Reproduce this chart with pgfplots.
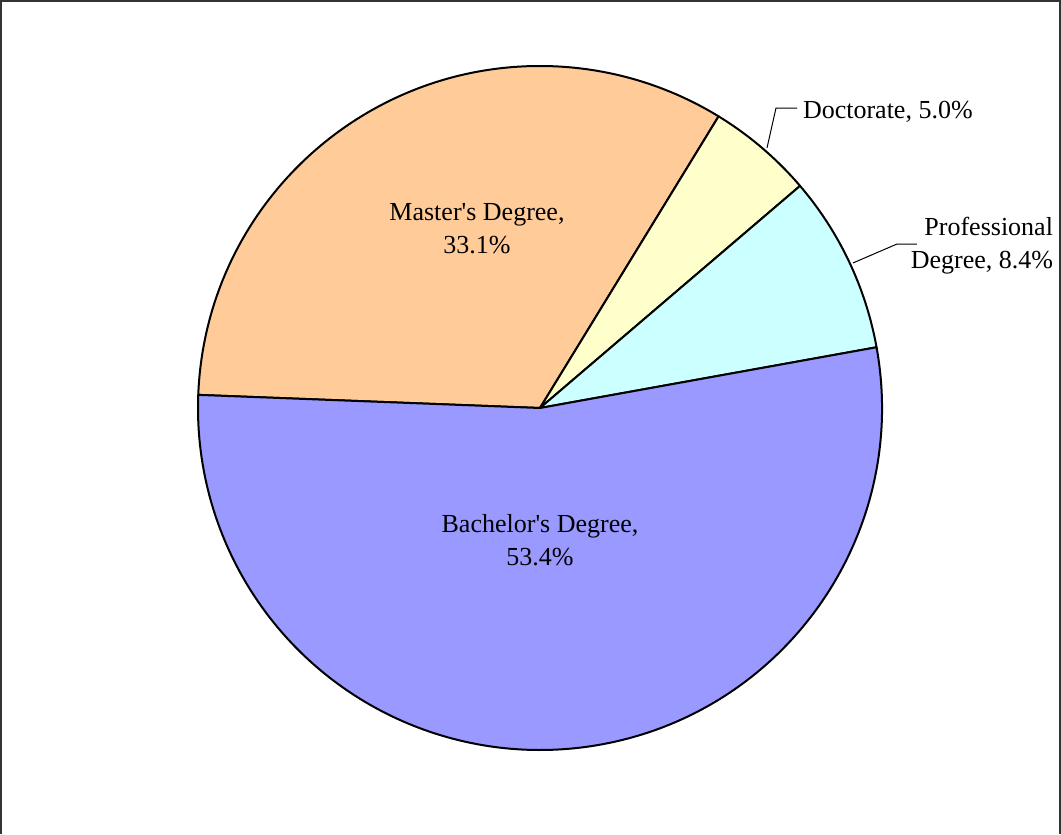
\documentclass[border=0pt]{standalone}
\usepackage{pgfplots}
\usepackage{pgfplotstable}
\pgfplotsset{compat=1.18}
\usepackage{fontspec}
\setmainfont{Liberation Serif}

\definecolor{MastCol}{HTML}{FFCC99}
\definecolor{DocCol}{HTML}{FFFFCC}
\definecolor{ProfCol}{HTML}{CCFFFF}
\definecolor{BachCol}{HTML}{9999FF}

% share of each degree (%), clockwise from the Master's slice
\pgfplotstableread{
value col
33.1  MastCol
5.0   DocCol
8.4   ProfCol
53.4  BachCol
}\piedata

% slice angles, worked out once before the axis
\xdef\startang{177.8}
\foreach \i in {0,...,3}{
    \pgfplotstablegetelem{\i}{value}\of\piedata
    \pgfmathsetmacro\sweep{\pgfplotsretval*3.6036}
    \pgfmathsetmacro\endang{\startang-\sweep}
    \expandafter\xdef\csname sa\i\endcsname{\startang}
    \expandafter\xdef\csname ea\i\endcsname{\endang}
    \pgfmathsetmacro\cx{cos(\startang)}
    \pgfmathsetmacro\cy{sin(\startang)}
    \expandafter\xdef\csname cx\i\endcsname{\cx}
    \expandafter\xdef\csname cy\i\endcsname{\cy}
    \pgfplotstablegetelem{\i}{col}\of\piedata
    \expandafter\xdef\csname co\i\endcsname{\pgfplotsretval}
    \xdef\startang{\endang}
}

\begin{document}
\begin{tikzpicture}[font=\fontsize{13}{16.5}\selectfont]
\begin{axis}[
    name=pie,
    hide axis,
    scale only axis,
    x=171pt, y=171pt,
    xmin=-1.5789, xmax=1.5234,
    ymin=-1.2456, ymax=1.1930,
    clip=false,
]
\pgfplotsinvokeforeach{0,...,3}{
    \edef\next{\noexpand\filldraw[fill=\csname co#1\endcsname, draw=black, line width=1pt, line join=round]
        (axis cs:0,0) -- (axis cs:\csname cx#1\endcsname,\csname cy#1\endcsname)
        arc[start angle=\csname sa#1\endcsname, end angle=\csname ea#1\endcsname, radius=171pt] -- cycle;}
    \next
}

% slice labels
\node[align=center] at (axis cs:-0.1842,0.5234) {Master\textquotesingle s Degree,\\33.1\%};
\node[align=center] at (axis cs:0,-0.386) {Bachelor\textquotesingle s Degree,\\53.4\%};
\draw[line width=0.5pt] (axis cs:0.6637,0.7602) -- (axis cs:0.690,0.877) -- (axis cs:0.7515,0.877);
\node[anchor=west, inner sep=1pt] at (axis cs:0.762,0.8655) {Doctorate, 5.0\%};
\draw[line width=0.5pt] (axis cs:0.915,0.424) -- (axis cs:1.0439,0.4795) -- (axis cs:1.1023,0.4795);
\node[anchor=east, align=right, inner sep=1pt] at (axis cs:1.507,0.4737) {Professional\\Degree, 8.4\%};

% chart frame
\draw[line width=1pt, black!80] (axis cs:-1.576,-1.2456) -- (axis cs:-1.576,1.1905)
    -- (axis cs:1.5205,1.1905) -- (axis cs:1.5205,-1.2456);
\end{axis}
\pgfresetboundingbox
\useasboundingbox (pie.south west) rectangle (pie.north east);
\end{tikzpicture}
\end{document}
